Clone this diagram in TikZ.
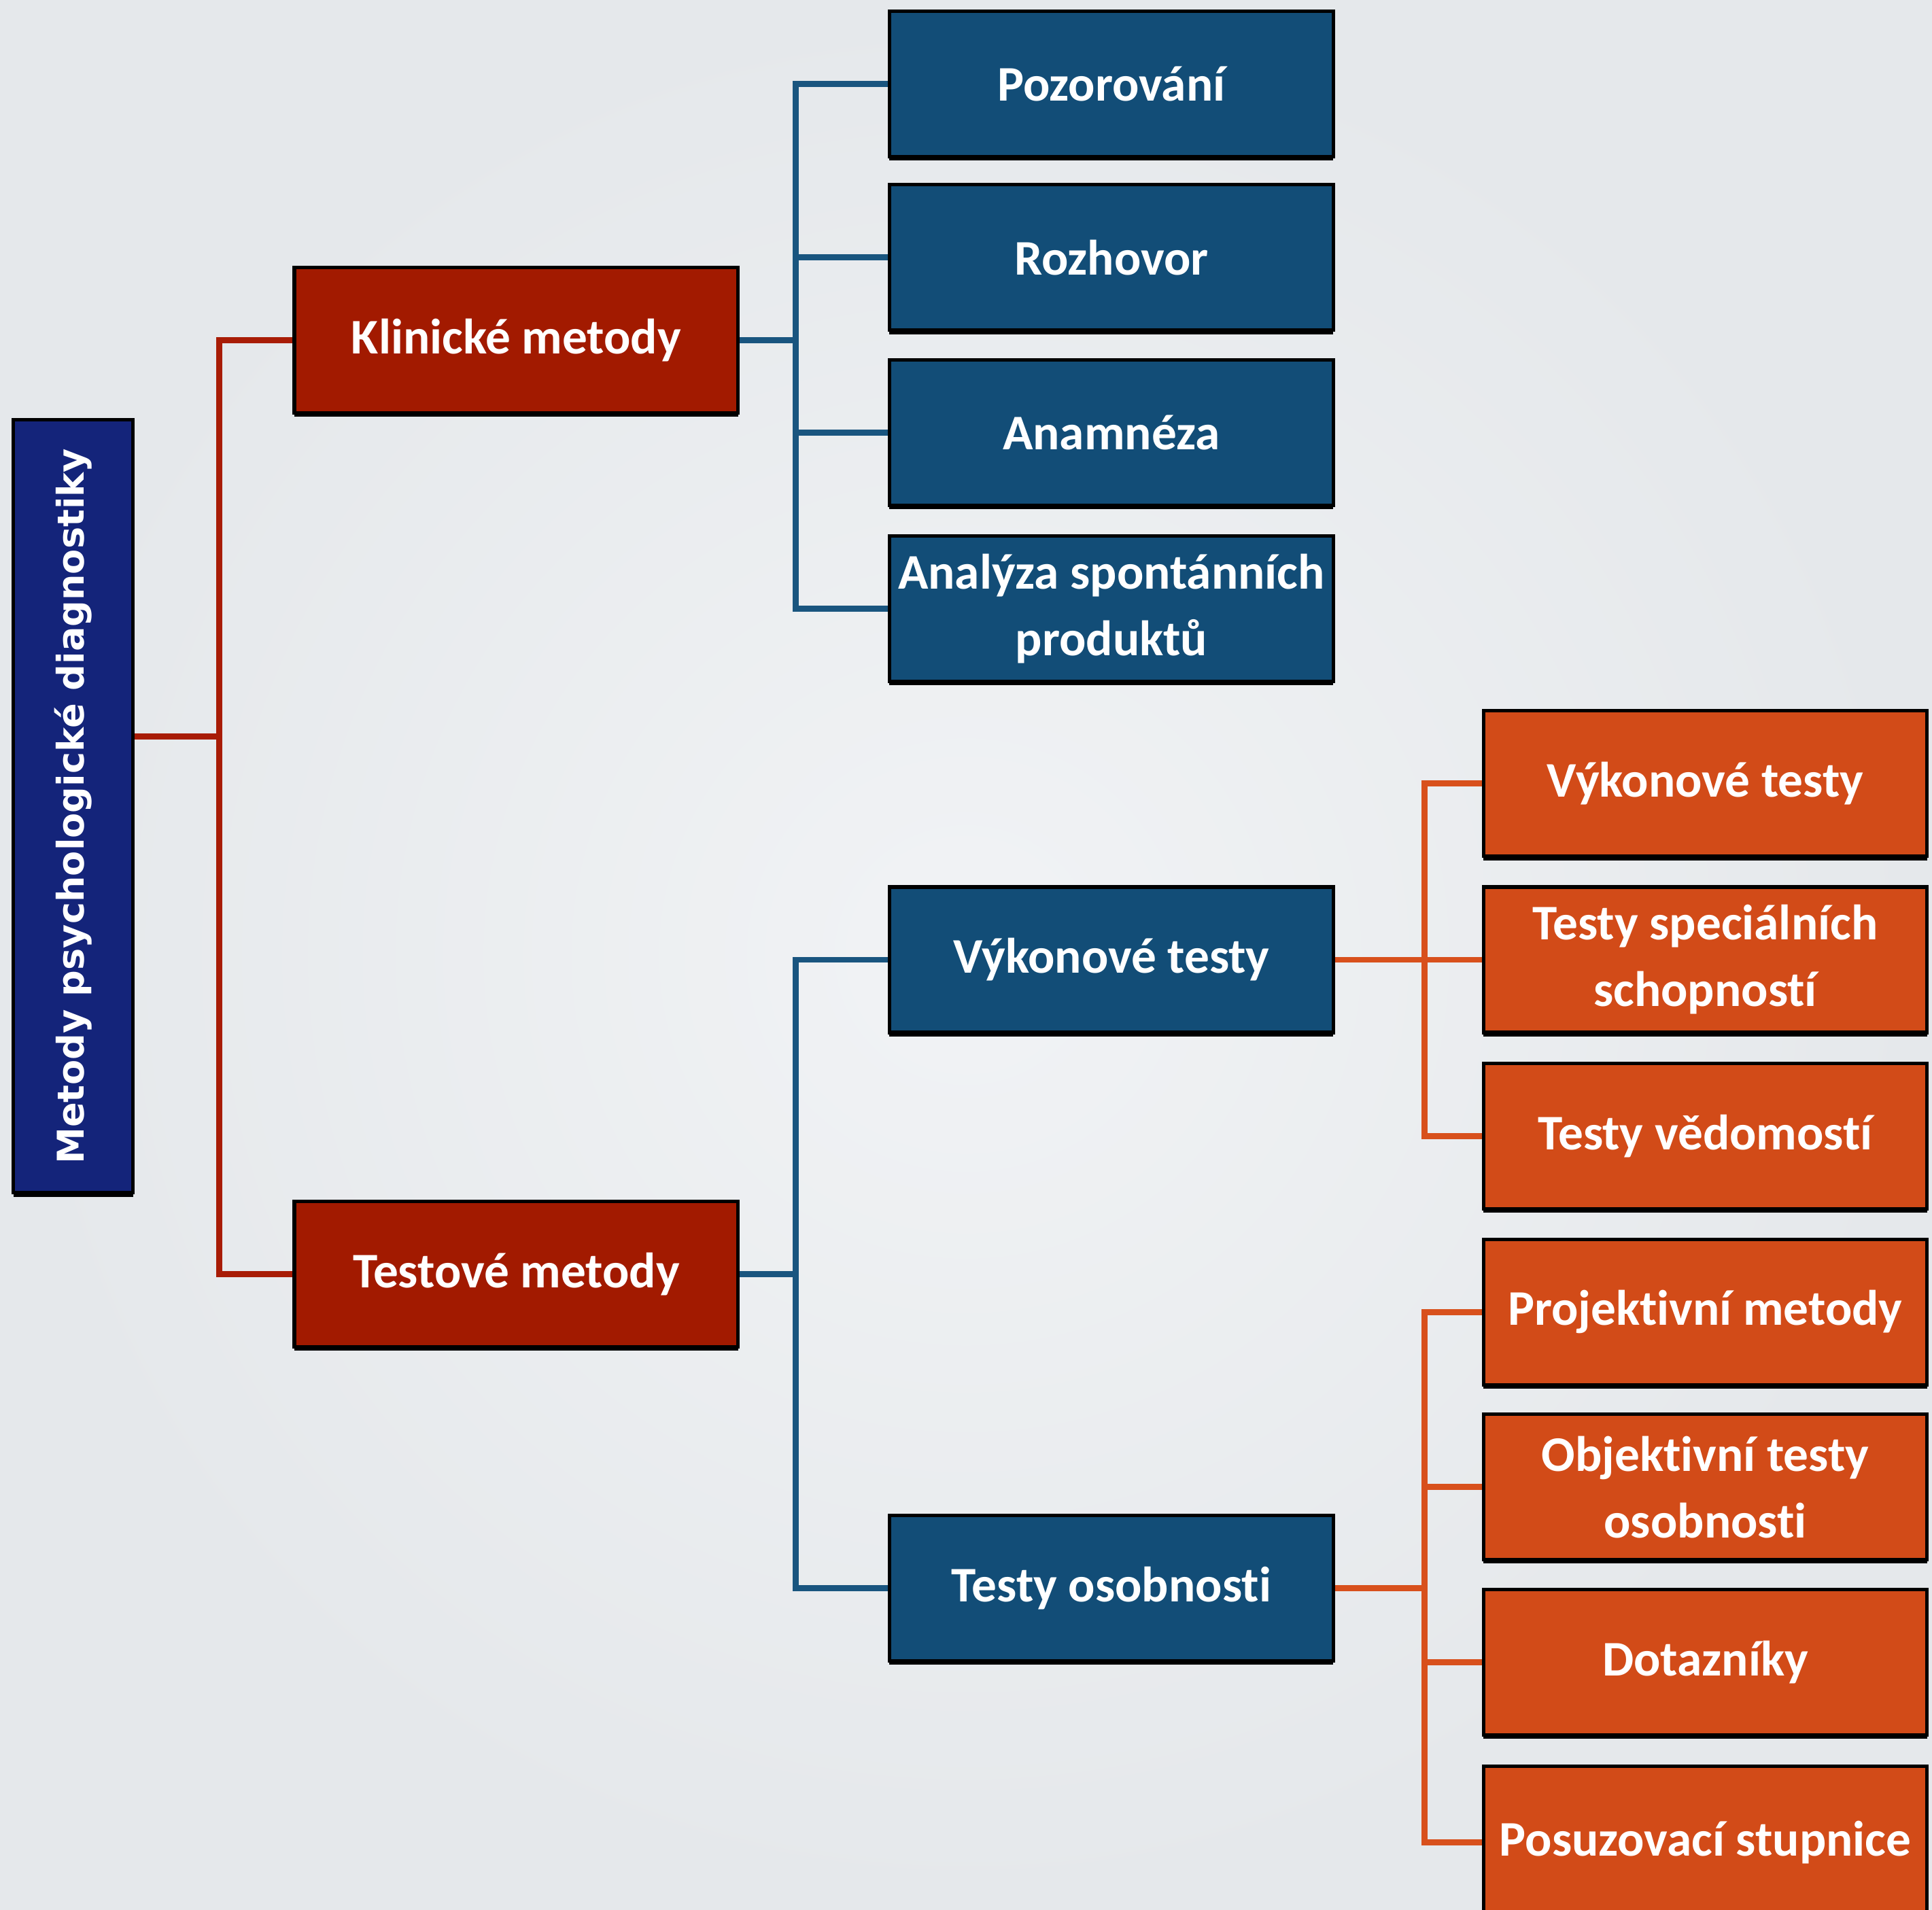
\documentclass[tikz,border=0pt]{standalone}
\usepackage{fontspec}
\setmainfont{Carlito}[Ligatures=NoCommon]
\newfontfamily\rootfont{DejaVu Sans}
\usetikzlibrary{shadows}
\definecolor{bgin}{HTML}{F1F3F5}
\definecolor{bgout}{HTML}{E5E8EB}
\definecolor{navy}{HTML}{14247A}
\definecolor{darkred}{HTML}{A21A00}
\definecolor{steel}{HTML}{124D77}
\definecolor{rust}{HTML}{D24B18}
\definecolor{redline}{HTML}{A81C06}
\definecolor{blueline}{HTML}{19557F}
\definecolor{orangeline}{HTML}{D8501C}
\tikzset{box/.style = {draw=black, line width=0.8pt, text=white, align=center, inner sep=0pt,
                       font=\bfseries\fontsize{11.5}{15.4}\selectfont,
                       drop shadow={shadow xshift=0pt, shadow yshift=-0.9pt, opacity=1, fill=black}}}
\tikzset{rootbox/.style = {box, fill=navy, minimum width=0.97cm, minimum height=6.27cm,
                           font=\rootfont\bfseries\fontsize{8.5}{10}\selectfont}}
\tikzset{redbox/.style = {box, fill=darkred, minimum width=3.6cm, minimum height=1.18cm}}
\tikzset{bluebox/.style = {box, fill=steel, minimum width=3.6cm, minimum height=1.18cm}}
\tikzset{orangebox/.style = {box, fill=rust, minimum width=3.6cm, minimum height=1.18cm}}
\tikzset{link/.style = {line width=1.4pt}}
\begin{document}
\begin{tikzpicture}[x=0.01cm, y=-0.01cm]
      \clip (0, 0) rectangle (1568, 1550);
      \shade [inner color=bgin, outer color=bgout] (0, 0) rectangle (1568, 1550);

      \node [rootbox] (root) at (59.5, 654.5) {\rotatebox{90}{Metody psychologické diagnostiky}};
      \node [redbox] (klin) at (419, 276) {Klinické metody};
      \node [redbox] (test) at (419, 1034) {Testové metody};

      \node [bluebox] (poz) at (902, 68) {Pozorování};
      \node [bluebox] (roz) at (902, 209) {Rozhovor};
      \node [bluebox] (anam) at (902, 351) {Anamnéza};
      \node [bluebox] (anal) at (902, 494) {Analýza spontánních\\produktů};
      \node [bluebox] (vyk) at (902, 779) {Výkonové testy};
      \node [bluebox] (osob) at (902, 1289) {Testy osobnosti};

      \node [orangebox] (vyk2) at (1384, 636) {Výkonové testy};
      \node [orangebox] (spec) at (1384, 779) {Testy speciálních\\schopností};
      \node [orangebox] (ved) at (1384, 922) {Testy vědomostí};
      \node [orangebox] (proj) at (1384, 1065) {Projektivní metody};
      \node [orangebox] (obj) at (1384, 1207) {Objektivní testy\\osobnosti};
      \node [orangebox] (dot) at (1384, 1349) {Dotazníky};
      \node [orangebox, minimum height=1.24cm, anchor=north] (posuz) at (1384, 1432) {Posuzovací stupnice};

      \coordinate (rbus) at (178, 0);
      \coordinate (kbus) at (646, 0);
      \coordinate (vbus) at (1156, 0);

      % root to the two method groups
      \coordinate (rootout) at ([yshift=0.565cm]root.east);
      \draw [link, redline] (rootout) -- (rootout -| rbus);
      \draw [link, redline] (klin.west) -- (klin.west -| rbus) |- (test.west);

      \draw [link, blueline] (klin.east) -- (klin.east -| kbus);
      \draw [link, blueline] (poz.west) -- (poz.west -| kbus) |- (anal.west);
      \foreach \c in {roz, anam}
        \draw [link, blueline] (\c.west) -- (\c.west -| kbus);

      \draw [link, blueline] (test.east) -- (test.east -| kbus);
      \draw [link, blueline] (vyk.west) -- (vyk.west -| kbus) |- (osob.west);

      \draw [link, orangeline] (vyk2.west) -- (vyk2.west -| vbus) |- (ved.west);
      \draw [link, orangeline] (vyk.east) -- (spec.west);

      \draw [link, orangeline] (proj.west) -- (proj.west -| vbus) |- (posuz.west);
      \foreach \c in {obj, dot}
        \draw [link, orangeline] (\c.west) -- (\c.west -| vbus);
      \draw [link, orangeline] (osob.east) -- (osob.east -| vbus);

    \end{tikzpicture}
\end{document}
